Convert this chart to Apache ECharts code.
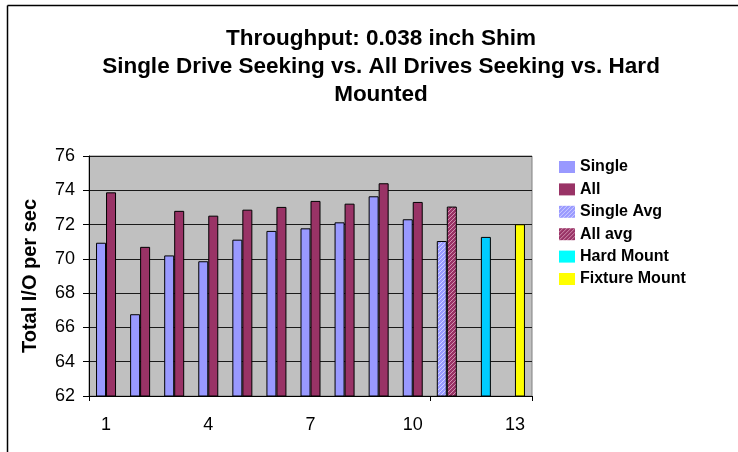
<!DOCTYPE html>
<html>
<head>
<meta charset="utf-8">
<script src="https://cdn.jsdelivr.net/npm/echarts@6/dist/echarts.min.js"></script>
<style>
  html, body { margin: 0; padding: 0; background: #fff; }
  #chart { width: 738px; height: 452px; }
</style>
</head>
<body>
<div id="chart"></div>
<script>
// Run numbers 1..13 along the x axis
const categories = ['1', '2', '3', '4', '5', '6', '7', '8', '9', '10', '11', '12', '13'];
// Per-run throughput (total I/O per second)
const singleValues = [70.94, 66.77, 70.20, 69.86, 71.12, 71.63, 71.78, 72.13, 73.65, 72.31];
const allValues = [73.88, 70.70, 72.80, 72.52, 72.87, 73.03, 73.38, 73.22, 74.41, 73.32];
// Summary bars
const singleAvgValue = [71.04];
const allAvgValue = [73.05];
const hardMountValue = [71.28];
const fixtureMountValue = [72.02];
const yTicks = [62, 64, 66, 68, 70, 72, 74, 76];

const FONT = '"Liberation Sans", Arial, sans-serif';

// Place a short list of values starting at a given category index
function placeAt(start, values) {
  const out = categories.map(() => '-');
  values.forEach((v, i) => { out[start + i] = v; });
  return out;
}

// Diagonal hatch fill used by the average bars
function hatch(base, line) {
  const c = document.createElement('canvas');
  c.width = 4; c.height = 4;
  const g = c.getContext('2d');
  g.fillStyle = base;
  g.fillRect(0, 0, 4, 4);
  g.strokeStyle = line;
  g.lineWidth = 1;
  g.beginPath();
  g.moveTo(-1, 5); g.lineTo(5, -1);
  g.moveTo(-1, 1); g.lineTo(1, -1);
  g.moveTo(3, 5); g.lineTo(5, 3);
  g.stroke();
  return { image: c, repeat: 'repeat' };
}

const singleHatch = hatch('#9999FF', 'rgba(255,255,255,0.55)');
const allHatch = hatch('#993366', 'rgba(255,220,235,0.55)');

const barBase = { type: 'bar', barWidth: 10, barGap: '0%', clip: true };
const border = { borderColor: '#000', borderWidth: 1 };

const chart = echarts.init(document.getElementById('chart'), null, { renderer: 'canvas' });

chart.setOption({
  animation: false,
  backgroundColor: '#fff',
  textStyle: { fontFamily: FONT },
  // chart frame: left and top edges
  graphic: [
    { type: 'line', shape: { x1: 7.5, y1: 5.5, x2: 760, y2: 5.5 }, style: { stroke: '#000', lineWidth: 1.5 }, silent: true },
    { type: 'line', shape: { x1: 7.5, y1: 5.5, x2: 7.5, y2: 460 }, style: { stroke: '#000', lineWidth: 1.5 }, silent: true }
  ],
  title: {
    text: 'Throughput: 0.038 inch Shim\nSingle Drive Seeking vs. All Drives Seeking vs. Hard\nMounted',
    left: 376,
    top: 20,
    textAlign: 'center',
    textStyle: { fontFamily: FONT, fontSize: 22.5, fontWeight: 'bold', color: '#000', lineHeight: 28 }
  },
  legend: {
    orient: 'vertical',
    left: 554,
    top: 154,
    itemWidth: 16,
    itemHeight: 12,
    itemGap: 6.4,
    icon: 'rect',
    itemStyle: { borderWidth: 0 },
    textStyle: { fontFamily: FONT, fontSize: 16, fontWeight: 'bold', color: '#000', lineHeight: 16 },
    data: [
      'Single', 'All', 'Single Avg', 'All avg',
      { name: 'Hard Mount', itemStyle: { color: '#00FFFF' } },
      'Fixture Mount'
    ]
  },
  grid: {
    left: 89, top: 156, right: 206, bottom: 56,
    show: true, backgroundColor: '#C0C0C0', borderColor: '#808080', borderWidth: 1
  },
  xAxis: {
    type: 'category',
    data: categories,
    boundaryGap: true,
    axisLine: { lineStyle: { color: '#000', width: 1 } },
    axisTick: { show: true, interval: 9, length: 5, lineStyle: { color: '#000' } },
    axisLabel: { interval: 2, margin: 20, fontSize: 18, color: '#000', fontFamily: FONT },
    splitLine: { show: false }
  },
  yAxis: {
    type: 'value',
    min: yTicks[0],
    max: yTicks[yTicks.length - 1],
    interval: yTicks[1] - yTicks[0],
    name: 'Total I/O per sec',
    nameLocation: 'middle',
    nameGap: 49,
    nameTextStyle: { fontFamily: FONT, fontSize: 20, fontWeight: 'bold', color: '#000' },
    axisLine: { show: true, lineStyle: { color: '#000', width: 1 } },
    axisTick: { show: true, length: 6, lineStyle: { color: '#000' } },
    axisLabel: { margin: 14, fontSize: 18, color: '#000', fontFamily: FONT },
    splitLine: { show: true, lineStyle: { color: '#1a1a1a', width: 1 } }
  },
  series: [
    Object.assign({}, barBase, {
      name: 'Single', stack: 'left',
      itemStyle: Object.assign({ color: '#9999FF' }, border),
      data: placeAt(0, singleValues)
    }),
    Object.assign({}, barBase, {
      name: 'All', stack: 'right',
      itemStyle: Object.assign({ color: '#993366' }, border),
      data: placeAt(0, allValues)
    }),
    Object.assign({}, barBase, {
      name: 'Single Avg', stack: 'left',
      itemStyle: Object.assign({ color: singleHatch }, border),
      data: placeAt(10, singleAvgValue)
    }),
    Object.assign({}, barBase, {
      name: 'All avg', stack: 'right',
      itemStyle: Object.assign({ color: allHatch }, border),
      data: placeAt(10, allAvgValue)
    }),
    Object.assign({}, barBase, {
      name: 'Hard Mount', stack: 'right',
      itemStyle: Object.assign({ color: '#00CCFF' }, border),
      data: placeAt(11, hardMountValue)
    }),
    Object.assign({}, barBase, {
      name: 'Fixture Mount', stack: 'right',
      itemStyle: Object.assign({ color: '#FFFF00' }, border),
      data: placeAt(12, fixtureMountValue)
    })
  ]
});
</script>
</body>
</html>
